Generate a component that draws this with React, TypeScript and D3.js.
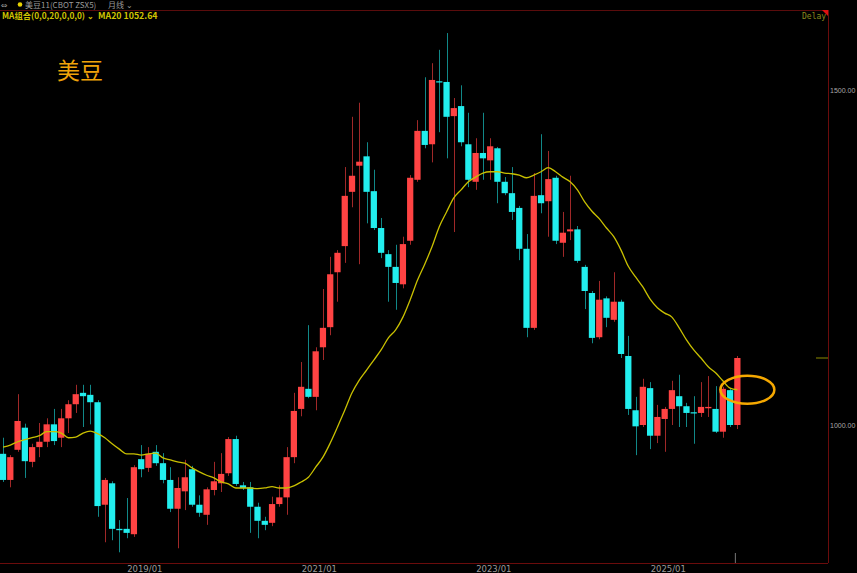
import React from "react";
import * as d3 from "d3";

const W = 857;
const H = 573;

const startMonth = new Date(2017, 4, 1);

const opens = [957,918,963,996,945,967,975,1001,981,1010,
1031,1048,1045,1034,881,913,845,845,837,949,
936,960,943,918,875,901,934,881,866,903,
913,928,979,910,907,878,857,854,882,892,
952,1024,1054,1042,1116,1146,1228,1267,1348,1387,
1401,1349,1294,1255,1236,1210,1275,1366,1439,1419,
1513,1512,1461,1476,1419,1363,1406,1395,1413,1363,
1346,1324,1263,1145,1343,1334,1369,1272,1289,1292,
1236,1197,1131,1189,1157,1184,1103,1022,1000,1055,
984,1009,1024,1043,1028,1019,1018,1025,1024,990,
1052,1000];

const highs = [981,955,1046,1002,972,1003,1010,1024,1024,1037,
1060,1060,1060,1037,921,916,858,891,940,970,
967,970,958,937,922,948,939,895,907,945,
958,982,984,915,915,884,863,893,910,967,
1048,1094,1149,1116,1203,1251,1261,1385,1460,1481,
1422,1381,1309,1261,1269,1281,1373,1455,1519,1540,
1560,1585,1488,1507,1466,1428,1466,1428,1415,1370,
1385,1327,1285,1376,1434,1409,1372,1318,1372,1297,
1239,1200,1215,1192,1228,1187,1133,1042,1069,1064,
1030,1027,1066,1075,1033,1043,1064,1073,1058,1057,
1055,1103];

const lows = [915,907,960,921,937,952,967,970,967,988,
1018,997,1001,863,825,828,810,831,833,922,
930,939,913,870,816,873,878,863,851,895,
900,924,909,903,839,831,843,849,878,866,
943,1013,1040,1022,1097,1134,1184,1242,1325,1240,
1301,1291,1249,1184,1172,1204,1269,1363,1413,1392,
1437,1398,1288,1416,1355,1351,1366,1366,1331,1343,
1306,1246,1131,1142,1316,1281,1270,1251,1276,1242,
1173,1122,1128,1146,1154,1100,1015,955,997,964,
973,960,1000,997,997,972,1012,1012,988,981,
997,994];

const closes = [918,952,1006,946,967,975,1001,976,1010,1031,
1046,1043,1034,879,918,845,843,839,937,934,
957,943,918,875,906,922,881,869,904,916,
927,979,912,906,878,857,851,882,892,952,
1021,1057,1042,1110,1145,1225,1257,1342,1372,1393,
1348,1294,1257,1236,1212,1270,1369,1439,1418,1515,
1512,1460,1473,1422,1366,1406,1398,1416,1363,1346,
1318,1263,1145,1342,1331,1367,1275,1287,1292,1245,
1200,1130,1187,1160,1184,1106,1024,998,1057,984,
1012,1024,1052,1028,1018,1018,1027,1027,990,1054,
1000,1100];

const ma20 = [967,970,975,978,981,984,990,990,988,981,
982,988,991,987,981,972,964,957,957,955,
957,958,951,948,945,943,936,930,925,921,
915,912,906,906,906,905,906,908,906,906,
909,915,922,937,952,973,997,1022,1048,1067,
1082,1097,1112,1130,1142,1161,1187,1216,1240,1266,
1296,1318,1339,1351,1363,1370,1376,1378,1378,1376,
1375,1373,1369,1373,1378,1384,1378,1370,1363,1351,
1333,1319,1308,1294,1281,1261,1237,1221,1206,1188,
1175,1167,1161,1145,1127,1112,1100,1087,1078,1066,
1055,1052.64];

const xTickLabels = ["2019/01", "2021/01", "2023/01", "2025/01"];
const yTickValues = [1000, 1500];

const fmt = d3.timeFormat("%Y/%m");
const months = opens.map((_, i) => fmt(d3.timeMonth.offset(startMonth, i)));

const RED = "#ff4343";
const RED_WICK = "#a02828";
const CYAN = "#22eeee";
const CYAN_WICK = "#118888";
const GOLD = "#c9c000";
const NARROW = "'Liberation Sans Narrow', 'Noto Sans CJK SC', sans-serif";

export default function App() {
  const plotRight = 828;
  const plotTop = 10;
  const plotBottom = 563;

  const x = d3.scaleBand<string>().domain(months).range([-0.6, 741]).padding(0);
  const y = d3.scaleLinear().domain([1000, 1500]).range([425, 90]);
  const bw = x.bandwidth() * 0.86;
  const cx = (i: number) => (x(months[i]) as number) + x.bandwidth() / 2;

  const maLine = d3
    .line<number>()
    .x((_, i) => cx(i))
    .y((d) => y(d))
    .curve(d3.curveMonotoneX);

  const last = opens.length - 1;
  const lastMA = ma20[last];

  return (
    <svg
      width={W}
      height={H}
      style={{ position: "fixed", left: 0, top: 0, background: "#000", display: "block" }}
    >
      <rect x={0} y={0} width={W} height={H} fill="#000" />

      {/* header */}
      <g fontFamily={NARROW}>
        <text x={1} y={8} fontSize={8} fill="#9a9a9a" fontFamily="'DejaVu Sans', sans-serif">⇔</text>
        <circle cx={20} cy={4.5} r={2.3} fill="#e6d200" />
        <text x={25} y={8} fontSize={8} fill="#9a9a9a">美豆11(CBOT ZSX5)</text>
        <text x={108} y={8} fontSize={8} fill="#9a9a9a">月线 ⌄</text>
        <line x1={0} x2={plotRight} y1={plotTop + 0.5} y2={plotTop + 0.5} stroke="#5a0c0c" />
        <text x={2} y={19} fontSize={8.3} fontWeight="bold" fill="#cfc400">MA组合(0,0,20,0,0,0) ⌄</text>
        <text x={98} y={19} fontSize={8.8} fontWeight="bold" fill="#cfc400">MA20 1052.64</text>
        <text x={57} y={79} fontSize={23} fill="#f0a30a" fontFamily="'Noto Sans CJK SC', sans-serif">美豆</text>
      </g>

      {/* Delay + corner */}
      <text x={802} y={19} fontSize={8} fill="#8c8a1e" fontFamily="'DejaVu Sans Mono', monospace">Delay</text>
      <polygon points={`${plotRight - 6},${plotTop} ${plotRight},${plotTop} ${plotRight},${plotTop + 6}`} fill="#e01010" />

      {/* borders */}
      <line x1={plotRight + 0.5} x2={plotRight + 0.5} y1={plotTop} y2={plotBottom} stroke="#6a0c0c" />
      <line x1={0} x2={plotRight} y1={plotBottom + 0.5} y2={plotBottom + 0.5} stroke="#6a0c0c" />

      {/* y labels */}
      {yTickValues.map((v) => (
        <text
          key={v}
          x={830}
          y={y(v) + 3}
          fontSize={7}
          fill="#a8a8a8"
          fontFamily="'Liberation Sans', sans-serif"
        >
          {v.toFixed(2)}
        </text>
      ))}

      {/* x labels */}
      {xTickLabels.map((lab) => (
        <text
          key={lab}
          x={x(lab) as number}
          y={572}
          fontSize={8.5}
          fill="#9a9a9a"
          textAnchor="middle"
          fontFamily="'DejaVu Sans', sans-serif"
        >
          {lab}
        </text>
      ))}

      {/* candles */}
      {opens.map((o, i) => {
        const c = closes[i];
        const up = c >= o;
        const xc = Math.round(cx(i)) + 0.5;
        const top = y(Math.max(o, c));
        const bot = y(Math.min(o, c));
        return (
          <g key={i}>
            <line x1={xc} x2={xc} y1={y(highs[i])} y2={y(lows[i])} stroke={up ? RED_WICK : CYAN_WICK} strokeWidth={1} />
            <rect
              x={cx(i) - bw / 2}
              y={top}
              width={bw}
              height={Math.max(1.2, bot - top)}
              fill={up ? RED : CYAN}
            />
          </g>
        );
      })}

      {/* MA20 */}
      <path d={maLine(ma20) || ""} fill="none" stroke={GOLD} strokeWidth={1.3} />

      {/* last price marker */}
      <line x1={816} x2={plotRight} y1={y(closes[last])} y2={y(closes[last])} stroke="#8c8a00" />
      <line x1={cx(last) - 2} x2={cx(last) - 2} y1={553} y2={plotBottom} stroke="#777" />

      {/* annotation ellipse */}
      <ellipse cx={cx(last) + 10} cy={y(lastMA)} rx={27} ry={14} fill="none" stroke="#f5a800" strokeWidth={2.5} />
    </svg>
  );
}
